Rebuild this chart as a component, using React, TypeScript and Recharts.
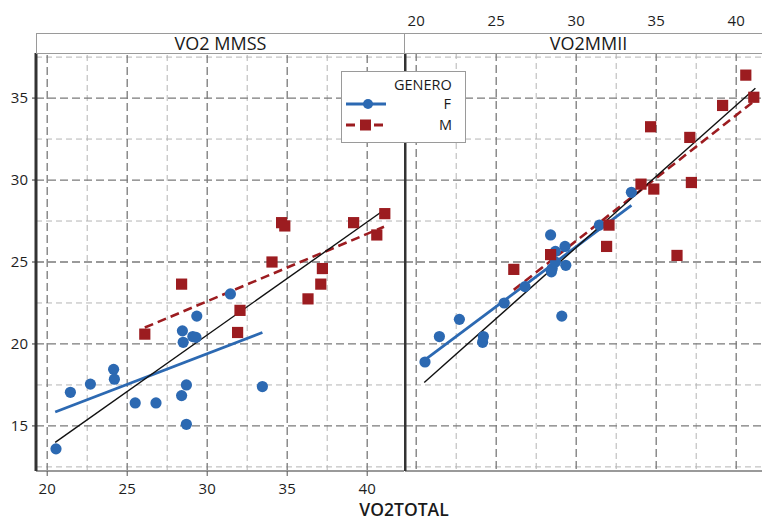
import React from "react";
import { ComposedChart, Scatter, XAxis, YAxis, ReferenceLine } from "recharts";

// ---------- data ----------
const xTicks = [20, 25, 30, 35, 40];
const yTicks = [15, 20, 25, 30, 35];
const gridMajorX = [20, 25, 30, 35, 40];
const gridMinorX = [22.5, 27.5, 32.5, 37.5];
const gridMajorY = [15, 20, 25, 30, 35];
const gridMinorY = [12.5, 17.5, 22.5, 27.5, 32.5, 37.5];

const panelTitles = ["VO2 MMSS", "VO2MMII"];
const xTitle = "VO2TOTAL";
const legendTitle = "GENERO";
const groups = ["F", "M"];

// F (GENERO = F)
const femaleTotal = [20.55, 21.45, 22.7, 24.15, 24.2, 25.5, 26.8, 28.4, 28.45, 28.5, 28.7, 28.7, 29.1, 29.3, 29.35, 31.45, 33.45];
const femaleMMSS = [13.6, 17.05, 17.55, 18.45, 17.85, 16.4, 16.4, 16.85, 20.8, 20.1, 17.5, 15.1, 20.45, 20.4, 21.7, 23.05, 17.4];
const femaleMMII = [18.9, 20.45, 21.5, 20.1, 20.45, 22.5, 23.5, 26.65, 24.4, 24.6, 25.65, 25.0, 21.7, 25.95, 24.8, 27.25, 29.25];

// M (GENERO = M)
const maleTotal = [26.1, 28.4, 31.9, 32.05, 34.05, 34.65, 34.85, 36.3, 37.1, 37.2, 39.15, 40.6, 41.1];
const maleMMSS = [20.6, 23.65, 20.7, 22.05, 25.0, 27.4, 27.2, 22.75, 23.65, 24.6, 27.4, 26.65, 27.95];
const maleMMII = [24.55, 25.45, 25.95, 27.25, 29.75, 33.25, 29.45, 25.4, 32.6, 29.85, 34.55, 36.4, 35.05];

// fitted lines (end points): [x1, y1, x2, y2]
const fitMMSS_F = [20.5, 15.85, 33.45, 20.7];
const fitMMSS_M = [26.1, 21.0, 41.05, 27.15];
const fitMMSS_All = [20.5, 14.0, 41.1, 28.2];
const fitMMII_F = [20.5, 19.0, 33.45, 28.45];
const fitMMII_M = [26.1, 23.3, 41.1, 34.8];
const fitMMII_All = [20.5, 17.65, 41.2, 35.6];

// ---------- style ----------
const BLUE = "#2c69b2";
const RED = "#9c1c20";
const FONT = '"Open Sans", "DejaVu Sans", sans-serif';

const toPts = (xs: number[], ys: number[]) => xs.map((x, i) => ({ x, y: ys[i] }));
const seg = (f: number[]) => [
  { x: f[0], y: f[1] },
  { x: f[2], y: f[3] },
];

const Dot = (p: any) => <circle cx={p.cx} cy={p.cy} r={5.6} fill={BLUE} />;
const Sq = (p: any) => <rect x={p.cx - 5.6} y={p.cy - 5.6} width={11.2} height={11.2} fill={RED} />;

const Y_DOMAIN: [number, number] = [12.25, 37.75];

function gridLines(prefix: string) {
  const out: any[] = [];
  gridMinorX.forEach((v) =>
    out.push(<ReferenceLine key={prefix + "mx" + v} x={v} stroke="#b4b4b4" strokeWidth={1} strokeDasharray="6 4" />)
  );
  gridMinorY.forEach((v) =>
    out.push(<ReferenceLine key={prefix + "my" + v} y={v} stroke="#b4b4b4" strokeWidth={1} strokeDasharray="6 4" />)
  );
  gridMajorX.forEach((v) =>
    out.push(<ReferenceLine key={prefix + "Mx" + v} x={v} stroke="#7a7a7a" strokeWidth={1.3} strokeDasharray="8 4" />)
  );
  gridMajorY.forEach((v) =>
    out.push(<ReferenceLine key={prefix + "My" + v} y={v} stroke="#7a7a7a" strokeWidth={1.3} strokeDasharray="8 4" />)
  );
  return out;
}

function fits(f: number[], m: number[], a: number[]) {
  return [
    <ReferenceLine key="fF" segment={seg(f)} stroke={BLUE} strokeWidth={2.8} />,
    <ReferenceLine key="fM" segment={seg(m)} stroke={RED} strokeWidth={2.6} strokeDasharray="9 5" />,
    <ReferenceLine key="fA" segment={seg(a)} stroke="#111" strokeWidth={1.4} />,
  ];
}

export default function App() {
  const tickStyle = { fill: "#1e1e1e", fontSize: 15, fontFamily: FONT };
  const stripStyle: React.CSSProperties = {
    position: "absolute",
    top: 33,
    width: 369,
    height: 21,
    boxSizing: "border-box",
    border: "1px solid #9a9a9a",
    background: "#fff",
    textAlign: "center",
    fontSize: 18,
    lineHeight: "19px",
    color: "#1a1a1a",
  };
  return (
    <div
      style={{
        position: "relative",
        width: 762,
        height: 520,
        background: "#fff",
        overflow: "hidden",
        fontFamily: FONT,
      }}
    >
      <style>{`body{margin:0;}`}</style>

      {/* left panel */}
      <div style={{ position: "absolute", left: 0, top: 0 }}>
        <ComposedChart width={405} height={520} margin={{ top: 53, right: 1, bottom: 19, left: 0 }}>
          <XAxis
            type="number"
            dataKey="x"
            domain={[19.3, 42.3]}
            ticks={xTicks}
            allowDataOverflow
            height={30}
            tickSize={5}
            tickMargin={7}
            tick={tickStyle}
            axisLine={{ stroke: "#9a9a9a", strokeWidth: 2 }}
            tickLine={{ stroke: "#555" }}
          />
          <YAxis
            type="number"
            dataKey="y"
            domain={Y_DOMAIN}
            ticks={yTicks}
            allowDataOverflow
            width={36}
            tickSize={4}
            tickMargin={4}
            tick={tickStyle}
            axisLine={{ stroke: "#333", strokeWidth: 3 }}
            tickLine={{ stroke: "#333" }}
          />
          {gridLines("L")}
          <Scatter data={toPts(femaleTotal, femaleMMSS)} shape={Dot} isAnimationActive={false} />
          <Scatter data={toPts(maleTotal, maleMMSS)} shape={Sq} isAnimationActive={false} />
          {fits(fitMMSS_F, fitMMSS_M, fitMMSS_All)}
        </ComposedChart>
      </div>

      {/* right panel */}
      <div style={{ position: "absolute", left: 404, top: 0 }}>
        <ComposedChart width={358} height={520} margin={{ top: 0, right: 0, bottom: 49, left: 0 }}>
          <XAxis
            type="number"
            dataKey="x"
            orientation="top"
            domain={[19.3, 41.6125]}
            ticks={xTicks}
            allowDataOverflow
            height={53}
            tickSize={0}
            tickMargin={27}
            tick={tickStyle}
            axisLine={false}
            tickLine={false}
          />
          <YAxis
            type="number"
            dataKey="y"
            domain={Y_DOMAIN}
            ticks={yTicks}
            allowDataOverflow
            width={1}
            tick={false}
            tickLine={false}
            axisLine={{ stroke: "#333", strokeWidth: 3 }}
          />
          {gridLines("R")}
          <ReferenceLine y={12.25} stroke="#9a9a9a" strokeWidth={2} />
          <Scatter data={toPts(femaleTotal, femaleMMII)} shape={Dot} isAnimationActive={false} />
          <Scatter data={toPts(maleTotal, maleMMII)} shape={Sq} isAnimationActive={false} />
          {fits(fitMMII_F, fitMMII_M, fitMMII_All)}
        </ComposedChart>
      </div>

      {/* panel header strip */}
      <div style={{ ...stripStyle, left: 36 }}>{panelTitles[0]}</div>
      <div style={{ ...stripStyle, left: 404 }}>{panelTitles[1]}</div>

      {/* x title */}
      <div
        style={{
          position: "absolute",
          left: 304,
          width: 200,
          top: 500,
          textAlign: "center",
          fontSize: 17.5,
          fontWeight: 600,
          color: "#1a1a1a",
          lineHeight: "18px",
        }}
      >
        {xTitle}
      </div>

      {/* legend */}
      <div
        style={{
          position: "absolute",
          left: 341,
          top: 71,
          width: 125,
          height: 72,
          boxSizing: "border-box",
          border: "1px solid #9a9a9a",
          background: "#fff",
          color: "#1a1a1a",
          fontSize: 14.5,
          fontWeight: 500,
        }}
      >
        <div style={{ position: "absolute", left: 52, top: 4, lineHeight: "18px" }}>{legendTitle}</div>
        <svg width={60} height={60} style={{ position: "absolute", left: 2, top: 12 }}>
          <line x1={2} y1={20} x2={42} y2={20} stroke={BLUE} strokeWidth={3} />
          <circle cx={24} cy={20} r={5} fill={BLUE} />
          <line x1={2} y1={41} x2={40} y2={41} stroke={RED} strokeWidth={3} strokeDasharray="9 5" />
          <rect x={16} y={35.5} width={11} height={11} fill={RED} />
        </svg>
        <div style={{ position: "absolute", right: 14, top: 23, lineHeight: "18px" }}>{groups[0]}</div>
        <div style={{ position: "absolute", right: 13, top: 44, lineHeight: "18px" }}>{groups[1]}</div>
      </div>
    </div>
  );
}
